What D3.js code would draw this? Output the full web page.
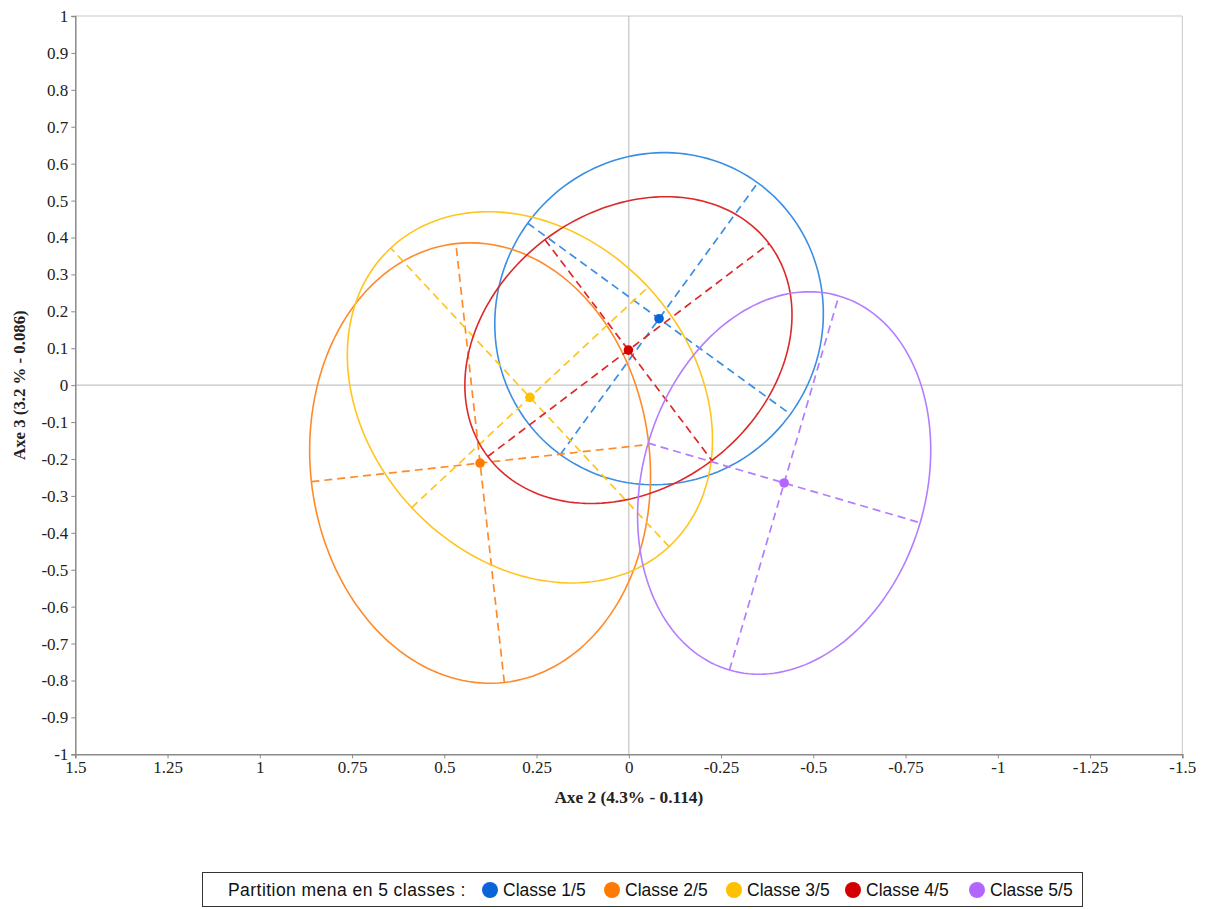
<!DOCTYPE html>
<html>
<head>
<meta charset="utf-8">
<script src="https://cdn.jsdelivr.net/npm/d3@7"></script>
<style>
  html, body { margin: 0; padding: 0; background: #fff; }
  svg { display: block; }
</style>
</head>
<body>
<script>
// ---- data ----
const classes   = ["Classe 1/5", "Classe 2/5", "Classe 3/5", "Classe 4/5", "Classe 5/5"];
const centerX   = [-0.082, 0.403, 0.268, 0.001, -0.421];
const centerY   = [0.180, -0.211, -0.033, 0.095, -0.265];
const semiA     = [0.455, 0.598, 0.553, 0.478, 0.528];
const semiB     = [0.440, 0.460, 0.438, 0.375, 0.384];
const angleDeg  = [126, 83.7, 47, 142.9, 106.3];
const lineColors = ["#3a8ee4", "#ff8a2a", "#ffc51e", "#dd2828", "#b47dff"];
const dotColors  = ["#0a66d8", "#ff7a00", "#ffc000", "#d40000", "#b266ff"];
const legendTitle = "Partition mena en 5 classes :";
const xTicks = [1.5, 1.25, 1, 0.75, 0.5, 0.25, 0, -0.25, -0.5, -0.75, -1, -1.25, -1.5];
const yTicks = [1, 0.9, 0.8, 0.7, 0.6, 0.5, 0.4, 0.3, 0.2, 0.1, 0, -0.1, -0.2, -0.3, -0.4, -0.5, -0.6, -0.7, -0.8, -0.9, -1];
const xTitle = "Axe 2 (4.3% - 0.114)";
const yTitle = "Axe 3 (3.2 % - 0.086)";

// ---- layout ----
const W = 1213, H = 909;
const L = 75.3, R = 1182.3, T = 16, B = 754.3;

const svg = d3.select("body").append("svg").attr("width", W).attr("height", H);

const x = d3.scaleLinear().domain([1.5, -1.5]).range([L, R]);
const y = d3.scaleLinear().domain([-1, 1]).range([B, T]);

// frame: top and right light
svg.append("line").attr("x1", L).attr("x2", R).attr("y1", T).attr("y2", T).attr("stroke", "#c8c8c8").attr("stroke-width", 1);
svg.append("line").attr("x1", R).attr("x2", R).attr("y1", T).attr("y2", B).attr("stroke", "#c8c8c8").attr("stroke-width", 1);

// zero lines
svg.append("line").attr("x1", x(0)).attr("x2", x(0)).attr("y1", T).attr("y2", B).attr("stroke", "#c4c4c4").attr("stroke-width", 1.2);
svg.append("line").attr("x1", L).attr("x2", R).attr("y1", y(0)).attr("y2", y(0)).attr("stroke", "#c4c4c4").attr("stroke-width", 1.2);

// axes
const fmt = d => String(d);
const xAxis = d3.axisBottom(x).tickValues(xTicks).tickFormat(fmt).tickSize(4).tickPadding(3);
const yAxis = d3.axisLeft(y).tickValues(yTicks).tickFormat(fmt).tickSize(4).tickPadding(3);

const gx = svg.append("g").attr("transform", `translate(0,${B})`).call(xAxis);
const gy = svg.append("g").attr("transform", `translate(${L},0)`).call(yAxis);
[gx, gy].forEach(g => {
  g.select(".domain").attr("stroke", "#8a8a8a").attr("stroke-width", 1.5);
  g.selectAll(".tick line").attr("stroke", "#8a8a8a");
  g.selectAll(".tick text").attr("fill", "#222").style("font-family", "'Liberation Serif', serif").style("font-size", "17px");
});

// titles
svg.append("text").attr("x", x(0)).attr("y", 803).attr("text-anchor", "middle")
  .style("font-family", "'Liberation Serif', serif").style("font-weight", "bold").style("font-size", "17.3px")
  .attr("fill", "#222").text(xTitle);
svg.append("text").attr("transform", `translate(25,${y(0)}) rotate(-90)`).attr("text-anchor", "middle")
  .style("font-family", "'Liberation Serif', serif").style("font-weight", "bold").style("font-size", "16.8px")
  .attr("fill", "#222").text(yTitle);

// ellipses
const line = d3.line().x(d => x(d[0])).y(d => y(d[1])).curve(d3.curveLinearClosed);
const plot = svg.append("g");
classes.forEach((c, i) => {
  const th = angleDeg[i] * Math.PI / 180;
  const ux = Math.cos(th), uy = Math.sin(th);
  const vx = -Math.sin(th), vy = Math.cos(th);
  const cx = centerX[i], cy = centerY[i], a = semiA[i], b = semiB[i];
  const pts = d3.range(0, 360, 2).map(t => {
    const r = t * Math.PI / 180;
    return [cx + a * Math.cos(r) * ux + b * Math.sin(r) * vx,
            cy + a * Math.cos(r) * uy + b * Math.sin(r) * vy];
  });
  plot.append("path").attr("d", line(pts)).attr("fill", "none")
    .attr("stroke", lineColors[i]).attr("stroke-width", 1.6);
  const axes = [
    [[cx - a * ux, cy - a * uy], [cx + a * ux, cy + a * uy]],
    [[cx - b * vx, cy - b * vy], [cx + b * vx, cy + b * vy]]
  ];
  axes.forEach(seg => {
    plot.append("line")
      .attr("x1", x(seg[0][0])).attr("y1", y(seg[0][1]))
      .attr("x2", x(seg[1][0])).attr("y2", y(seg[1][1]))
      .attr("stroke", lineColors[i]).attr("stroke-width", 1.7)
      .attr("stroke-dasharray", "8,5");
  });
});
classes.forEach((c, i) => {
  plot.append("circle").attr("cx", x(centerX[i])).attr("cy", y(centerY[i])).attr("r", 4.8)
    .attr("fill", dotColors[i]);
});

// legend
const lg = svg.append("g");
lg.append("rect").attr("x", 202.5).attr("y", 872.5).attr("width", 880).attr("height", 34)
  .attr("fill", "#fff").attr("stroke", "#333").attr("stroke-width", 1);
lg.append("text").attr("x", 228).attr("y", 896).style("font-family", "'Liberation Sans', Arial, sans-serif")
  .style("font-size", "17.5px").style("letter-spacing", "0.45px").attr("fill", "#111").text(legendTitle);
const legendDotX = [490, 612, 734, 853, 977];
classes.forEach((c, i) => {
  lg.append("circle").attr("cx", legendDotX[i]).attr("cy", 890).attr("r", 8).attr("fill", dotColors[i]);
  lg.append("text").attr("x", legendDotX[i] + 13).attr("y", 896)
    .style("font-family", "'Liberation Sans', Arial, sans-serif").style("font-size", "17.5px")
    .attr("fill", "#111").text(c);
});
</script>
</body>
</html>
